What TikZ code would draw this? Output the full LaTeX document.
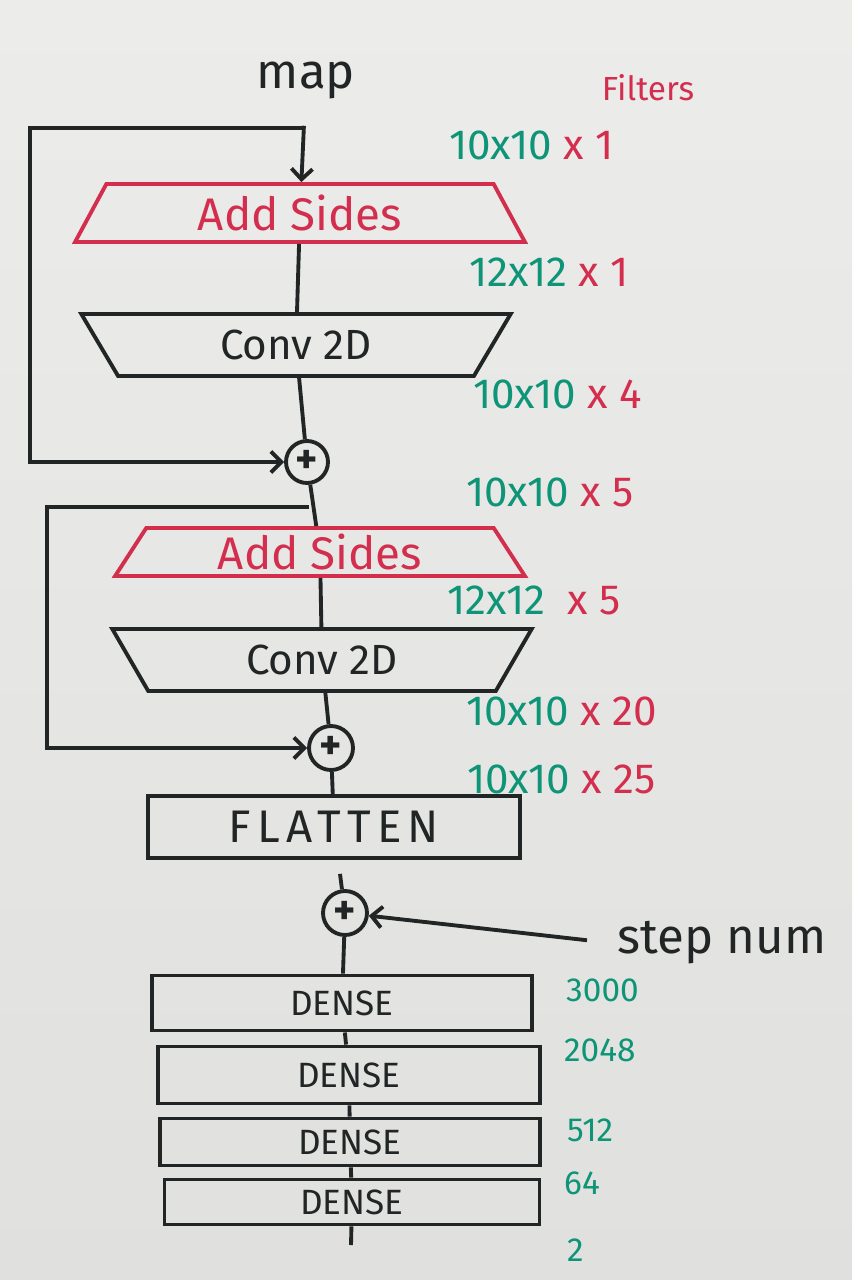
\documentclass[tikz,border=0pt]{standalone}
\usepackage{fontspec}
\setmainfont{Fira Sans}
\usetikzlibrary{arrows.meta,shapes.geometric}
\definecolor{boardtop}{RGB}{236,237,235}
\definecolor{boardbot}{RGB}{224,225,223}
\definecolor{inkc}{RGB}{34,37,37}
\definecolor{redc}{RGB}{212,46,78}
\definecolor{greenc}{RGB}{14,148,118}

\begin{document}
\begin{tikzpicture}[x=0.02cm, y=-0.02cm,
  line/.style={draw=inkc, line width=2.2pt},
  arr/.style={line, -{Straight Barb[length=6pt,width=12pt]}},
  pad/.style={trapezium, trapezium stretches=true, trapezium angle=70, draw=redc, line width=2.2pt, text=redc, font=\fontsize{26}{26}\selectfont},
  conv/.style={trapezium, trapezium stretches=true, trapezium angle=68, shape border rotate=180, line, text=inkc, font=\fontsize{24}{24}\selectfont},
  layer/.style={rectangle, line, text=inkc, font=\fontsize{20}{20}\selectfont},
  plus/.style={circle, line, inner sep=0pt, minimum size=0.84cm, text=inkc, font=\fontsize{24}{24}\selectfont\bfseries},
  dims/.style={anchor=west, text=greenc, font=\fontsize{24}{24}\selectfont},
  units/.style={anchor=west, text=greenc, font=\fontsize{19}{19}\selectfont},
]
  \fill[top color=boardtop, bottom color=boardbot] (0,0) rectangle (852,1280);

  \node[text=inkc, font=\fontsize{28}{28}\selectfont] (map) at (306,80) {map};
  \node[text=redc, font=\fontsize{19}{19}\selectfont] (filt) at (648,88) {Filters};

  \node[pad, minimum width=9cm, minimum height=1.16cm] (as1) at (300,213) {Add Sides};
  \node[conv, minimum width=8.6cm, minimum height=1.24cm] (cv1) at (296,345) {Conv 2D};
  \node[plus] (plus1) at (307,462) {+};
  \node[pad, minimum width=8.2cm, minimum height=0.96cm, trapezium angle=68] (as2) at (320,552) {Add Sides};
  \node[conv, minimum width=8.4cm, minimum height=1.24cm] (cv2) at (322,660) {Conv 2D};
  \node[plus, minimum size=0.88cm] (plus2) at (331,748) {+};
  \node[layer, minimum width=7.44cm, minimum height=1.24cm, font=\fontsize{26}{26}\selectfont\addfontfeature{LetterSpace=14}] (fl) at (334,827) {FLATTEN};
  \node[plus, minimum size=0.88cm] (plus3) at (345,913) {+};
  \node[text=inkc, font=\fontsize{28}{28}\selectfont] (step) at (722,943) {step num};

  \node[layer, minimum width=7.6cm, minimum height=1.1cm] (de1) at (342,1003) {DENSE};
  \node[layer, minimum width=7.64cm, minimum height=1.14cm] (de2) at (349,1075) {DENSE};
  \node[layer, minimum width=7.6cm, minimum height=0.94cm] (de3) at (350,1142) {DENSE};
  \node[layer, minimum width=7.5cm, minimum height=0.9cm] (de4) at (352,1202) {DENSE};
  \coordinate (out) at (351,1245);

  % shapes and filters
  \node[dims] (sz0) at (443,145) {10x10 \textcolor{redc}{x 1}};
  \node[dims] (sz1) at (463,272) {12x12 \textcolor{redc}{x 1}};
  \node[dims] (sz2) at (467,394) {10x10 \textcolor{redc}{x 4}};
  \node[dims] (sz3) at (460,492) {10x10 \textcolor{redc}{x 5}};
  \node[dims] (sz4) at (441,600) {12x12 \textcolor{redc}{\ x 5}};
  \node[dims] (sz5) at (460,711) {10x10 \textcolor{redc}{x 20}};
  \node[dims] (sz6) at (461,779) {10x10 \textcolor{redc}{x 25}};

  \node[units] (u1) at (560,990) {3000};
  \node[units] (u2) at (558,1050) {2048};
  \node[units] (u3) at (561,1130) {512};
  \node[units] (u4) at (558,1183) {64};
  \node[units] (u5) at (561,1250) {2};

  % main path
  \draw[arr, shorten <=12pt] (map) -- (as1);
  \draw[line] (as1) -- (cv1);
  \draw[line] (cv1) -- (plus1);
  \draw[line] (plus1) -- (as2);
  \draw[line] (as2) -- (cv2);
  \draw[line] (cv2) -- (plus2);
  \draw[line] (plus2) -- (fl);
  \draw[line, shorten <=8pt] (fl) -- (plus3);
  \draw[arr, shorten <=14pt] (step.west) -- (plus3);
  \draw[line] (plus3) -- (de1);
  \draw[line] (de1) -- (de2);
  \draw[line] (de2) -- (de3);
  \draw[line] (de3) -- (de4);
  \draw[line] (de4) -- (out);

  % skip connections
  \coordinate (tap1) at (304,128);
  \coordinate (c1) at (30,128);
  \draw[arr] (tap1) -- (c1) |- (plus1);
  \coordinate (tap2) at (309,507);
  \coordinate (c2) at (47,507);
  \draw[arr] (tap2) -- (c2) |- (plus2);
\end{tikzpicture}
\end{document}
